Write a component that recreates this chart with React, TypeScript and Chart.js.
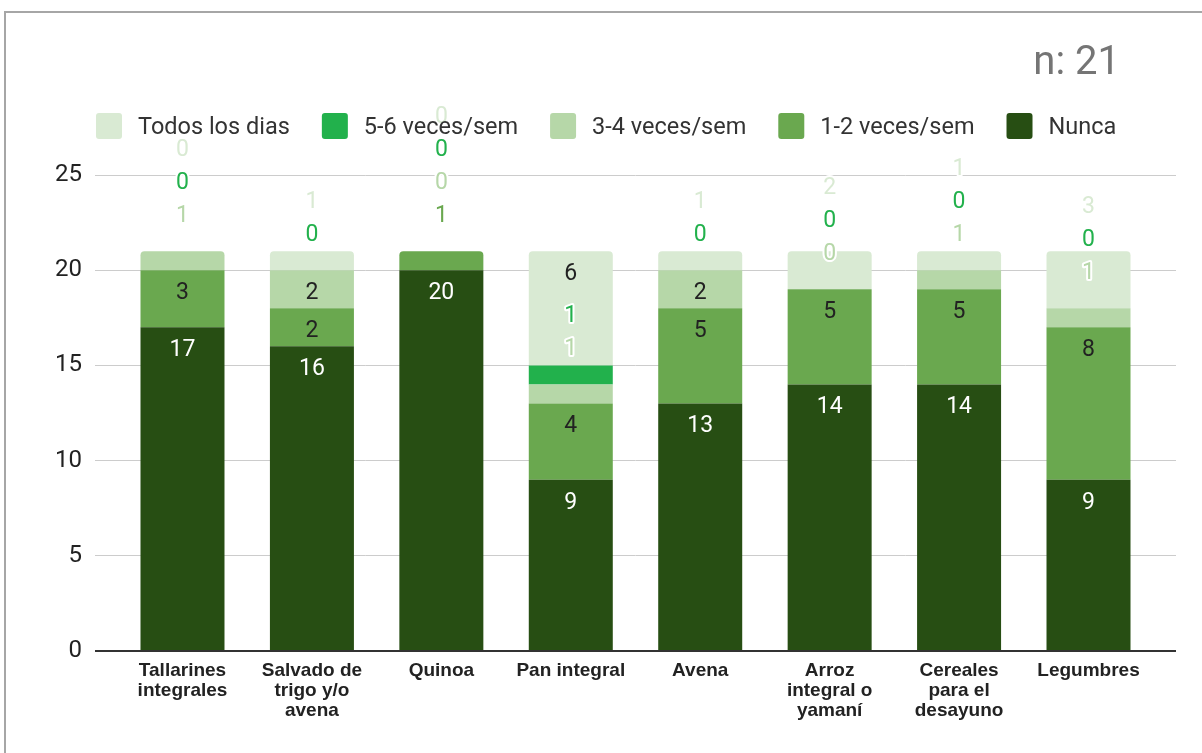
import React, { useEffect, useRef } from 'react';
import { Chart, registerables } from 'chart.js';

Chart.register(...registerables);

const categories = [
  'Tallarines integrales',
  'Salvado de trigo y/o avena',
  'Quinoa',
  'Pan integral',
  'Avena',
  'Arroz integral o yamaní',
  'Cereales para el desayuno',
  'Legumbres',
];
const tickLabels = [
  ['Tallarines', 'integrales'],
  ['Salvado de', 'trigo y/o', 'avena'],
  ['Quinoa'],
  ['Pan integral'],
  ['Avena'],
  ['Arroz', 'integral o', 'yamaní'],
  ['Cereales', 'para el', 'desayuno'],
  ['Legumbres'],
];

// stack order, bottom to top
const seriesNames = ['Nunca', '1-2 veces/sem', '3-4 veces/sem', '5-6 veces/sem', 'Todos los dias'];
const nunca = [17, 16, 20, 9, 13, 14, 14, 9];
const unoDos = [3, 2, 1, 4, 5, 5, 5, 8];
const tresCuatro = [1, 2, 0, 1, 2, 0, 1, 1];
const cincoSeis = [0, 0, 0, 1, 0, 0, 0, 0];
const todosLosDias = [0, 1, 0, 6, 1, 2, 1, 3];
const seriesValues = [nunca, unoDos, tresCuatro, cincoSeis, todosLosDias];

const seriesColors = ['#274e13', '#6aa84f', '#b6d7a8', '#22b14c', '#d9ead3'];
const insideTextColors = ['#ffffff', '#222222', '#222222', '#ffffff', '#222222'];

const yMin = 0;
const yMax = 25;
const yStep = 5;
const titleText = 'n: 21';

const labelPlugin = {
  id: 'stackLabels',
  afterDatasetsDraw(chart: any) {
    const ctx = chart.ctx;
    const yScale = chart.scales.y;
    ctx.save();
    ctx.font = '23px Roboto';
    ctx.textAlign = 'center';
    ctx.textBaseline = 'alphabetic';
    for (let i = 0; i < categories.length; i++) {
      let cum = 0;
      let prevY = Infinity;
      chart.data.datasets.forEach((ds: any, d: number) => {
        const v = ds.data[i].y;
        const bot = yScale.getPixelForValue(cum);
        cum += v;
        const top = yScale.getPixelForValue(cum);
        const h = bot - top;
        const fits = h >= 30;
        let cy = fits ? top + 21 : top - 37;
        cy = Math.min(cy, prevY - 33);
        prevY = cy;
        const inside = cy - 10 >= top && cy + 10 <= bot;
        const el = chart.getDatasetMeta(d).data[i];
        const x = el.x;
        const by = cy + 8;
        const txt = String(v);
        if (inside) {
          ctx.fillStyle = insideTextColors[d];
          ctx.fillText(txt, x, by);
        } else {
          ctx.lineWidth = 4;
          ctx.lineJoin = 'round';
          ctx.strokeStyle = '#ffffff';
          ctx.strokeText(txt, x, by);
          ctx.fillStyle = seriesColors[d];
          ctx.fillText(txt, x, by);
        }
      });
    }
    ctx.restore();
  },
};

const legendTitlePlugin = {
  id: 'legendTitle',
  afterDraw(chart: any) {
    const ctx = chart.ctx;
    ctx.save();
    // title
    ctx.font = '40px Roboto';
    ctx.fillStyle = '#757575';
    ctx.textAlign = 'right';
    ctx.textBaseline = 'alphabetic';
    ctx.fillText(titleText, 1120, 74);
    // legend (reverse stack order)
    ctx.font = '23.5px Roboto';
    ctx.textAlign = 'left';
    let x = 96;
    const boxTop = 113;
    const box = 26;
    for (let d = seriesNames.length - 1; d >= 0; d--) {
      ctx.fillStyle = seriesColors[d];
      ctx.beginPath();
      (ctx as any).roundRect(x, boxTop, box, box, 3);
      ctx.fill();
      const tx = x + box + 16;
      ctx.fillStyle = '#333333';
      ctx.fillText(seriesNames[d], tx, 134);
      const w = ctx.measureText(seriesNames[d]).width;
      x = tx + w + 32;
    }
    ctx.restore();
  },
};

export default function App() {
  const canvasRef = useRef<HTMLCanvasElement | null>(null);

  useEffect(() => {
    const canvas = canvasRef.current;
    if (!canvas) return;
    const datasets = seriesValues.map((vals, d) => ({
      label: seriesNames[d],
      data: vals.map((v, i) => ({ x: i, y: v })),
      backgroundColor: seriesColors[d],
      borderWidth: 0,
      borderRadius: 4,
      borderSkipped: 'start' as const,
      barPercentage: 0.649,
      categoryPercentage: 1,
    }));
    const chart = new Chart(canvas, {
      type: 'bar',
      data: { datasets },
      plugins: [labelPlugin, legendTitlePlugin],
      options: {
        animation: false,
        responsive: false,
        devicePixelRatio: 1,
        layout: { padding: { top: 175, right: 26, left: 0, bottom: 0 } },
        plugins: {
          legend: { display: false },
          title: { display: false },
          tooltip: { enabled: false },
        },
        scales: {
          x: {
            type: 'linear',
            stacked: true,
            min: -0.676,
            max: 7.676,
            offset: false,
            grid: { display: false },
            border: { display: false },
            afterFit: (scale: any) => {
              scale.height = 102;
            },
            ticks: {
              stepSize: 1,
              includeBounds: false,
              autoSkip: false,
              maxRotation: 0,
              minRotation: 0,
              padding: 2,
              color: '#222222',
              font: { family: 'Arial', size: 19, weight: 'bold', lineHeight: '20px' },
              callback: (value: any) => {
                const v = Number(value);
                return Number.isInteger(v) && v >= 0 && v < tickLabels.length ? tickLabels[v] : '';
              },
            },
          },
          y: {
            stacked: true,
            min: yMin,
            max: yMax,
            border: { display: false },
            afterFit: (scale: any) => {
              scale.width = 95;
            },
            grid: {
              drawTicks: false,
              color: (c: any) => (c.tick && c.tick.value === 0 ? '#333333' : '#cccccc'),
              lineWidth: (c: any) => (c.tick && c.tick.value === 0 ? 2 : 1),
            },
            ticks: {
              stepSize: yStep,
              padding: 13,
              color: '#222222',
              font: { family: 'Roboto', size: 24 },
            },
          },
        },
      } as any,
    });
    return () => {
      chart.destroy();
    };
  }, []);

  return (
    <div
      style={{
        position: 'fixed',
        left: 0,
        top: 0,
        width: 1202,
        height: 753,
        overflow: 'hidden',
        background: '#ffffff',
      }}
    >
      <div
        style={{
          position: 'absolute',
          left: 4,
          top: 11,
          width: 1300,
          height: 900,
          border: '2px solid #a6a6a6',
          boxSizing: 'border-box',
        }}
      />
      <canvas
        ref={canvasRef}
        width={1202}
        height={753}
        style={{ position: 'absolute', left: 0, top: 0, width: 1202, height: 753 }}
      />
    </div>
  );
}
